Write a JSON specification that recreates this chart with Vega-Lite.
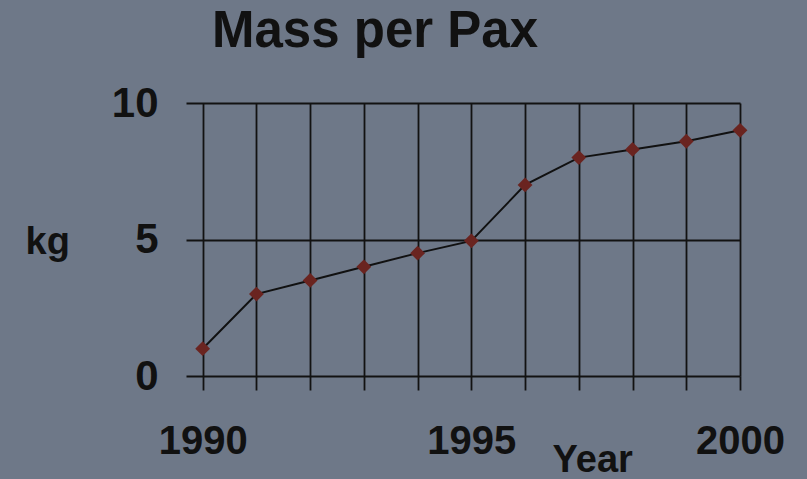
{
  "$schema": "https://vega.github.io/schema/vega-lite/v6.json",
  "width": 554,
  "height": 273,
  "autosize": {"type": "none"},
  "padding": {"left": 186, "top": 103, "right": 67, "bottom": 103},
  "background": "#6e7888",
  "config": {"view": {"stroke": null}, "font": "Liberation Sans"},
  "title": {
    "text": "Mass per Pax",
    "anchor": "start",
    "frame": "group",
    "dx": 26,
    "dy": 26,
    "fontSize": 51,
    "fontWeight": "bold",
    "color": "#111111",
    "baseline": "alphabetic",
    "offset": 10
  },
  "data": {
    "values": [
      {"year": 1990, "kg": 1},
      {"year": 1991, "kg": 3},
      {"year": 1992, "kg": 3.5},
      {"year": 1993, "kg": 4},
      {"year": 1994, "kg": 4.5},
      {"year": 1995, "kg": 4.95},
      {"year": 1996, "kg": 7},
      {"year": 1997, "kg": 8},
      {"year": 1998, "kg": 8.3},
      {"year": 1999, "kg": 8.6},
      {"year": 2000, "kg": 9}
    ]
  },
  "encoding": {
    "x": {
      "field": "year",
      "type": "quantitative",
      "scale": {"domain": [1989.69, 2000], "nice": false, "zero": false},
      "axis": {
        "values": [1990, 1991, 1992, 1993, 1994, 1995, 1996, 1997, 1998, 1999, 2000],
        "format": "d",
        "labelExpr": "datum.value % 5 == 0 ? datum.label : ''",
        "labelFlush": false,
        "labelOverlap": false,
        "labelFontSize": 40,
        "labelFontWeight": "bold",
        "labelColor": "#111111",
        "labelBaseline": "alphabetic",
        "labelPadding": 63,
        "domain": false,
        "grid": true,
        "gridColor": "#121212",
        "gridWidth": 1.8,
        "gridOpacity": 1,
        "ticks": true,
        "tickSize": 14,
        "tickColor": "#121212",
        "tickWidth": 1.8,
        "title": "Year",
        "titleFontSize": 38,
        "titleFontWeight": "bold",
        "titleColor": "#111111",
        "titleAlign": "left",
        "titleBaseline": "alphabetic",
        "titleAnchor": "start",
        "titleX": 366,
        "titleY": 95
      }
    },
    "y": {
      "field": "kg",
      "type": "quantitative",
      "scale": {"domain": [0, 10], "nice": false},
      "axis": {
        "values": [0, 5, 10],
        "labelFontSize": 42,
        "labelFontWeight": "bold",
        "labelColor": "#111111",
        "labelPadding": 28,
        "domain": false,
        "ticks": false,
        "grid": true,
        "gridColor": "#121212",
        "gridWidth": 1.8,
        "gridOpacity": 1,
        "title": "kg",
        "titleAngle": 0,
        "titleFontSize": 38,
        "titleFontWeight": "bold",
        "titleColor": "#111111",
        "titleAlign": "left",
        "titleBaseline": "alphabetic",
        "titleAnchor": "start",
        "titleX": -161,
        "titleY": 150
      }
    }
  },
  "layer": [
    {"mark": {"type": "line", "color": "#111111", "strokeWidth": 2}},
    {"mark": {"type": "point", "shape": "diamond", "filled": true, "color": "#6a2420", "opacity": 1, "size": 220}}
  ]
}
